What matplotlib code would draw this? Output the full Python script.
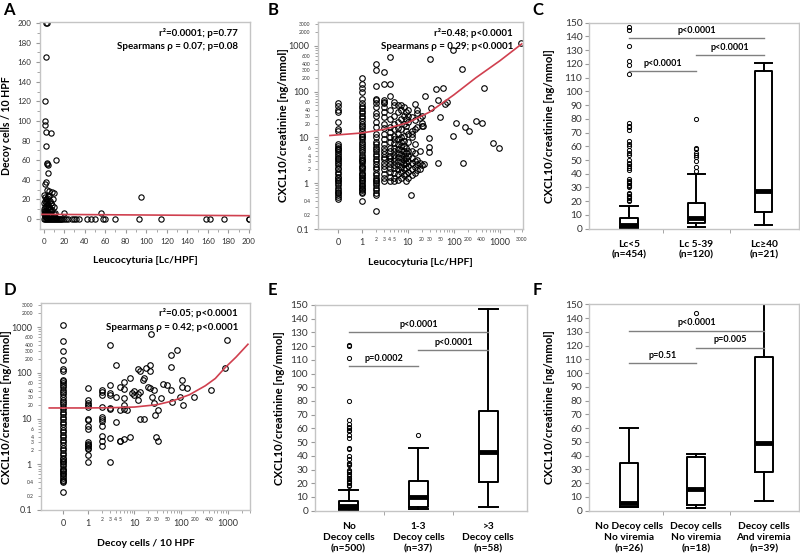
import matplotlib
matplotlib.use("Agg")
import matplotlib.pyplot as plt

plt.rcParams['font.family'] = ['Lato', 'DejaVu Sans']

ZERO = 0.3  # position of the value 0 on the log axes

# ---------------- panel A: leucocyturia vs decoy cells ----------------
a_lc = [2, 3, 2, 1, 1, 1.5, 2, 7, 2, 3, 4, 3, 12, 4, 2, 1, 3, 5, 8, 10, 95, 20, 56,
        0, 1, 2, 3, 4, 5, 6, 7, 8, 9, 10, 1, 2, 3, 4, 5, 6, 0, 0, 1, 2, 3, 0, 1, 2,
        4, 6, 8, 9, 11, 12, 5, 7, 3, 10, 11, 1, 2, 3, 4, 0, 1, 2, 3, 5, 6, 7,
        0, 1, 2, 3, 4, 5, 6, 7, 8, 9, 10, 11, 12, 13, 14, 15, 16, 17, 18, 20,
        22, 24, 28, 30, 32, 34, 42, 46, 50, 58, 60, 70, 93, 114, 158, 162, 176, 200, 200]
a_decoy = [200, 200, 165, 120, 100, 96, 89, 88, 74, 57, 55, 56, 60, 47, 38, 36, 30, 29, 28, 27, 22, 6, 6,
           25, 22, 20, 18, 15, 12, 10, 8, 14, 20, 5, 12, 8, 6, 4, 3, 2, 10, 5, 3, 2, 1, 16, 7, 13,
           24, 18, 9, 3, 2, 1, 23, 16, 11, 12, 6, 18, 16, 21, 10, 8, 5, 4, 7, 9, 5, 3,
           0, 0, 0, 0, 0, 0, 0, 0, 0, 0, 0, 0, 0, 0, 0, 0, 0, 0, 0, 0,
           0, 0, 0, 0, 0, 0, 0, 0, 0, 0, 0, 0, 0, 0, 0, 0, 0, 0, 0]
a_fit_x = [-3.5, 201]
a_fit_y = [4.8, 3.4]

# ---------------- panel B: leucocyturia vs CXCL10 ----------------
b_lc0 = [0.45, 0.5, 0.55, 0.6, 0.65, 0.7, 0.8, 0.9, 1.0, 1.1, 1.2, 1.3, 1.4, 1.6, 1.8, 2.0,
         2.2, 2.5, 2.8, 3.0, 3.3, 3.6, 4.0, 4.4, 4.8, 5.2, 5.6, 6.0, 6.5, 7.0, 14, 15, 22, 35, 40, 48, 55]
b_lc1 = [0.41, 0.6, 0.65, 0.7, 0.75, 0.8, 0.85, 0.9, 1, 1.1, 1.2, 1.3, 1.4, 1.5, 1.6, 1.7, 1.9,
         2.1, 2.3, 2.4, 2.7, 3, 3.2, 3.4, 3.8, 4.2, 4.7, 5.2, 5.8, 6.5, 7.2, 8, 9, 10, 11, 12,
         14, 16, 18, 20, 23, 26, 30, 34, 38, 43, 48, 55, 70, 100, 120, 150, 200]
b_lc2 = [0.25, 0.55, 0.6, 0.7, 0.8, 0.9, 1, 1.1, 1.2, 1.3, 1.5, 1.7, 2, 2.3, 2.6, 3, 3.4, 3.9,
         4.4, 5, 5.6, 6.3, 7, 8, 10, 12, 17, 22, 30, 34, 45, 55, 65, 70, 130, 300, 400]
b_cloud_lc = [3, 4, 5, 6, 7, 8, 9, 10, 12, 14, 16, 18, 20]
b_cloud_y = [
    [1.1, 1.3, 1.6, 2, 2.4, 2.8, 3.3, 3.8, 4.4, 5, 6, 7, 9, 12, 16, 20, 28, 35, 45, 55, 60, 65, 150, 270],
    [1.1, 1.4, 1.8, 2.2, 2.6, 3, 3.5, 4, 5, 6, 8, 10, 13, 17, 25, 40, 80, 145, 560],
    [1.1, 1.3, 1.7, 2.1, 2.5, 3, 3.6, 4.2, 5, 6, 7.5, 9, 11, 15, 20, 30, 50, 60],
    [1.2, 1.6, 2, 2.5, 3, 3.7, 4.5, 5.5, 7, 9, 12, 16, 22, 35, 50],
    [1.3, 1.8, 2.3, 2.9, 3.5, 4.3, 5.3, 6.5, 8, 10, 15, 25, 40, 52],
    [1.5, 2, 2.6, 3.2, 4, 5, 6.5, 8.5, 11, 20, 30, 45],
    [1.1, 1.6, 2.2, 2.8, 3.5, 4.5, 6, 14, 18, 25, 35],
    [1.3, 1.8, 2.4, 3, 4, 5, 8, 12, 22, 30, 40],
    [1.5, 2, 2.7, 3.6, 5, 10, 14, 28, 12],
    [1.7, 2.3, 3, 4.5, 7, 15, 24, 54],
    [1.9, 2.6, 3.2, 17, 34, 40],
    [2, 2.8, 5, 26],
    [2.5, 18, 21, 30],
]
b_rest_lc = [11.6, 21, 22, 23, 28, 28, 28, 30.5, 31, 40, 44, 46, 50, 59, 65, 70, 95, 98,
             112, 149, 160, 178, 208, 304, 405, 463, 725, 940, 2900]
b_rest_y = [0.55, 18, 2.6, 79, 4.9, 6.3, 9.6, 520, 43, 112, 2.8, 66, 28, 122, 54, 60, 10.7, 790,
            21, 314, 2.7, 17, 14, 23, 21, 119, 7.5, 6, 1150]
b_fit_x = [0.2, 1, 3, 10, 30, 100, 300, 1000, 3000]
b_fit_y = [11, 12.5, 15, 21, 36, 85, 200, 470, 1100]

# ---------------- panel D: decoy cells vs CXCL10 ----------------
d_dc0 = [0.25, 0.4, 0.42, 0.45, 0.5, 0.55, 0.6, 0.65, 0.7, 0.75, 0.8, 0.9, 1, 1.1, 1.2, 1.3, 1.4,
         1.6, 1.8, 2, 2.3, 2.6, 3, 3.4, 3.9, 4.4, 5, 5.7, 6.5, 7.4, 8.5, 9.7, 11, 12.5, 14, 16,
         18, 20.5, 23, 26, 30, 34, 38, 43, 48, 54, 60, 66, 70, 110, 120, 190, 300, 500, 1100]
d_cloud_dc = [1, 2, 3, 4, 5, 6, 7, 8, 9, 10, 12, 13, 15, 16]
d_cloud_y = [
    [1.1, 1.6, 2.2, 2.3, 2.5, 2.6, 2.8, 3, 6, 7, 9.5, 10, 18, 20, 22, 25, 47],
    [2.5, 3.3, 4.2, 7, 9, 10, 11, 18, 32, 38, 42],
    [1.1, 3.8, 16, 17, 33, 36, 55, 400],
    [8.5, 29, 145],
    [3.2, 3.3, 15, 50],
    [3.5, 16, 20, 28, 45, 63],
    [15],
    [4, 75],
    [37],
    [33, 40],
    [25, 35, 120],
    [10, 38, 110],
    [70],
    [9.8, 75],
]
d_rest_dc = [17.5, 20, 22, 22, 22, 23, 24, 26, 26, 27.6, 28.5, 32, 32, 38, 41, 50, 60, 61, 62,
             64, 82, 97, 102, 105, 110, 134, 187, 443, 850, 950]
d_rest_y = [125, 48, 145, 112, 46, 716, 29.5, 41, 21.6, 11.7, 3.9, 3.2, 15, 28, 56, 55, 43, 137,
            250, 23, 310, 29, 50, 68, 20, 46, 29, 43, 126, 530]
d_fit_x = [0.15, 1, 3, 10, 30, 64, 150, 330, 540, 880, 1500, 2700]
d_fit_y = [17, 17, 17.2, 17.8, 20, 24, 33, 52, 75, 130, 220, 420]

# ---------------- box plot panels (C, E, F) ----------------
c_labels = ['Lc<5\n(n=454)', 'Lc 5-39\n(n=120)', 'Lc≥40\n(n=21)']
c_whislo = [0.5, 1, 2.7]
c_q1 = [1.5, 4.4, 12.1]
c_med = [3, 7.5, 27.7]
c_q3 = [7.5, 18.4, 114.6]
c_whishi = [16.5, 39.8, 120.9]
c_fliers = [[20, 21, 22, 23, 24, 25, 26, 30, 31, 32, 33, 34, 35, 36, 43, 44, 46, 47, 48, 50,
             54, 55, 57, 60, 62, 64, 72, 74, 75, 77, 113, 119, 122, 133, 145, 147],
            [42, 45, 49, 52, 54, 55, 58, 59, 80], []]
c_sig = [(0, 2, 138.6, 'p<0.0001'), (1, 2, 126.5, 'p<0.0001'), (0, 1, 114.8, 'p<0.0001')]

e_labels = ['No\nDecoy cells\n(n=500)', '1-3\nDecoy cells\n(n=37)', '>3\nDecoy cells\n(n=58)']
e_whislo = [0.5, 1, 2.9]
e_q1 = [1, 2.4, 20.7]
e_med = [3.4, 9.7, 42.8]
e_q3 = [7.3, 21.6, 73]
e_whishi = [15, 46, 146.8]
e_fliers = [[18, 19, 20, 21, 22, 23, 24, 25, 27, 28, 29, 30, 33, 34, 35, 38, 40, 45, 46, 53,
             55, 58, 59, 60, 61, 63, 66, 80, 111, 120, 121], [55], []]
e_sig = [(0, 2, 130, 'p<0.0001'), (1, 2, 117.2, 'p<0.0001'), (0, 1, 105.5, 'p=0.0002')]

f_labels = ['No Decoy cells\nNo viremia\n(n=26)', 'Decoy cells\nNo viremia\n(n=18)',
            'Decoy cells\nAnd viremia\n(n=39)']
f_whislo = [2.4, 2.2, 7]
f_q1 = [2.9, 4.1, 28.4]
f_med = [5.8, 15.8, 49]
f_q3 = [34.4, 38.8, 111.5]
f_whishi = [60.3, 41.2, 150]
f_fliers = [[], [144], []]
f_sig = [(0, 2, 130.8, 'p<0.0001'), (1, 2, 118.5, 'p=0.005'), (0, 1, 107.1, 'p=0.51')]

YLAB = 'CXCL10/creatinine [ng/mmol]'
YLAB_SIZE = 8.2
SPINE = '#c4c4c4'
TXT = '#333333'


def frame(ax):
    for s in ax.spines.values():
        s.set_color(SPINE)
        s.set_linewidth(1.0)
    ax.tick_params(which='both', color='#999999', labelcolor=TXT, direction='out')


def circles(ax, xs, ys, ms=4):
    ax.plot(xs, ys, 'o', mfc='none', mec='black', ms=ms, mew=0.8, ls='none')


def log_axes(ax, xlim, xmaj, xmaj_lab, xmin_lab):
    ax.set_xscale('log')
    ax.set_yscale('log')
    ax.set_xlim(*xlim)
    ax.set_ylim(0.1, 3300)
    minors = [m * 10 ** e for e in range(-1, 4) for m in range(2, 10) if m * 10 ** e <= 3000]
    ax.set_xticks(xmaj, xmaj_lab)
    xm = [v for v in minors if v > 1]
    ax.set_xticks(xm, [('%g' % v if v in xmin_lab else '') for v in xm], minor=True)
    ymaj = [0.1, 1, 10, 100, 1000]
    ax.set_yticks(ymaj, ['0.1', '1', '10', '100', '1000'])
    ylab_set = [0.2, 0.3, 0.4, 0.6, 2, 3, 4, 6, 20, 30, 40, 60, 200, 300, 400, 600, 2000, 3000]
    ax.set_yticks(minors, [('%g' % v if v in ylab_set else '') for v in minors], minor=True)
    frame(ax)
    ax.tick_params(which='major', labelsize=6.5, length=3)
    ax.tick_params(which='minor', labelsize=3.6, length=2)


def box_panel(ax, labels, whislo, q1, med, q3, whishi, fliers, sig, xlim, width):
    stats = []
    for i in range(3):
        stats.append(dict(whislo=whislo[i], q1=q1[i], med=med[i], q3=q3[i],
                          whishi=whishi[i], fliers=fliers[i]))
    ax.bxp(stats, positions=[0, 1, 2], widths=width, capwidths=width,
           boxprops=dict(color='black', lw=1.4),
           medianprops=dict(color='black', lw=3.5, solid_capstyle='butt'),
           whiskerprops=dict(color='black', lw=1.4),
           capprops=dict(color='black', lw=1.4),
           flierprops=dict(marker='o', ms=3, mfc='none', mec='black', mew=0.7))
    for x0, x1, y, t in sig:
        ax.plot([x0, x1], [y, y], color='#808080', lw=1)
        ax.text((x0 + x1) / 2, y + 2.5, t, ha='center', va='bottom', fontsize=6.5,
                fontweight='bold')
    ax.set_xlim(*xlim)
    ax.set_ylim(0, 150)
    ax.set_yticks(range(0, 151, 10))
    ax.set_xticks([0, 1, 2], labels, fontweight='bold', fontsize=7.3, linespacing=1.3)
    ax.set_xticks([0.5, 1.5], minor=True)
    frame(ax)
    ax.tick_params(axis='x', which='major', length=0, pad=8, labelcolor='black')
    ax.tick_params(axis='x', which='minor', length=3)
    ax.tick_params(axis='y', labelsize=7.3, length=3, pad=2)
    ax.set_ylabel(YLAB, fontsize=YLAB_SIZE, fontweight='bold')
    ax.yaxis.set_label_coords(-0.165, 0.5)


fig = plt.figure(figsize=(8, 5.59), dpi=100)

# A
ax = fig.add_axes([0.05, 0.5903, 0.2625, 0.3703])
circles(ax, a_lc, a_decoy, ms=3.8)
ax.plot(a_fit_x, a_fit_y, color='#d0404f', lw=1.2)
ax.set_xlim(-3.5, 201)
ax.set_ylim(-10.2, 201)
ax.set_xticks(range(0, 201, 20))
ax.set_yticks(range(0, 201, 20))
ax.set_xticks(range(0, 201, 10), minor=True)
ax.set_yticks(range(0, 201, 10), minor=True)
frame(ax)
ax.tick_params(which='major', labelsize=5.8, length=3)
ax.tick_params(which='minor', length=2)
ax.set_ylabel('Decoy cells / 10 HPF', fontsize=7.6, fontweight='bold')
ax.yaxis.set_label_coords(-0.135, 0.5)
ax.set_xlabel('Leucocyturia [Lc/HPF]', fontsize=7.5, fontweight='bold', labelpad=8)
ax.text(0.943, 0.947, 'r²=0.0001; p=0.77', transform=ax.transAxes, ha='right', va='center',
        fontsize=7, fontweight='bold')
ax.text(0.943, 0.884, 'Spearmans ρ = 0.07; p=0.08', transform=ax.transAxes, ha='right',
        va='center', fontsize=7, fontweight='bold')

# B
ax = fig.add_axes([0.3975, 0.5903, 0.2563, 0.3703])
circles(ax, [ZERO] * len(b_lc0), b_lc0)
circles(ax, [1] * len(b_lc1), b_lc1)
circles(ax, [2] * len(b_lc2), b_lc2)
for lc, ys in zip(b_cloud_lc, b_cloud_y):
    circles(ax, [lc] * len(ys), ys)
circles(ax, b_rest_lc, b_rest_y)
ax.plot(b_fit_x, b_fit_y, color='#d0404f', lw=1.2)
log_axes(ax, (0.11, 3200), [ZERO, 1, 10, 100, 1000], ['0', '1', '10', '100', '1000'],
         [2, 3, 4, 5, 20, 30, 50, 200, 400, 3000])
ax.set_ylabel(YLAB, fontsize=YLAB_SIZE, fontweight='bold')
ax.yaxis.set_label_coords(-0.14, 0.5)
ax.set_xlabel('Leucocyturia [Lc/HPF]', fontsize=7.5, fontweight='bold', labelpad=8)
ax.text(0.951, 0.947, 'r²=0.48; p<0.0001', transform=ax.transAxes, ha='right', va='center',
        fontsize=7, fontweight='bold')
ax.text(0.951, 0.884, 'Spearmans ρ = 0.29; p<0.0001', transform=ax.transAxes, ha='right',
        va='center', fontsize=7, fontweight='bold')

# C
ax = fig.add_axes([0.7366, 0.5909, 0.2618, 0.3685])
box_panel(ax, c_labels, c_whislo, c_q1, c_med, c_q3, c_whishi, c_fliers, c_sig,
          (-0.59, 2.52), 0.26)

# D
ax = fig.add_axes([0.0513, 0.0877, 0.2613, 0.3697])
circles(ax, [ZERO] * len(d_dc0), d_dc0)
for dc, ys in zip(d_cloud_dc, d_cloud_y):
    circles(ax, [dc] * len(ys), ys)
circles(ax, d_rest_dc, d_rest_y)
ax.plot(d_fit_x, d_fit_y, color='#d0404f', lw=1.2)
log_axes(ax, (0.1, 2750), [ZERO, 1, 10, 100, 1000], ['0', '1', '10', '100', '1000'],
         [2, 3, 4, 5, 20, 30, 50, 200, 400])
ax.set_ylabel(YLAB, fontsize=YLAB_SIZE, fontweight='bold')
ax.yaxis.set_label_coords(-0.138, 0.5)
ax.set_xlabel('Decoy cells / 10 HPF', fontsize=7.5, fontweight='bold', labelpad=8)
ax.text(0.943, 0.952, 'r²=0.05; p<0.0001', transform=ax.transAxes, ha='right', va='center',
        fontsize=7, fontweight='bold')
ax.text(0.943, 0.882, 'Spearmans ρ = 0.42; p<0.0001', transform=ax.transAxes, ha='right',
        va='center', fontsize=7, fontweight='bold')

# E
ax = fig.add_axes([0.3938, 0.0864, 0.2646, 0.368])
box_panel(ax, e_labels, e_whislo, e_q1, e_med, e_q3, e_whishi, e_fliers, e_sig,
          (-0.48, 2.55), 0.28)
ax.yaxis.set_label_coords(-0.14, 0.5)

# F
ax = fig.add_axes([0.7366, 0.0864, 0.2618, 0.3692])
box_panel(ax, f_labels, f_whislo, f_q1, f_med, f_q3, f_whishi, f_fliers, f_sig,
          (-0.59, 2.52), 0.27)

for letter, x, y in [('A', 0.004, 0.982), ('B', 0.335, 0.982), ('C', 0.666, 0.982),
                     ('D', 0.004, 0.482), ('E', 0.335, 0.482), ('F', 0.666, 0.482)]:
    fig.text(x, y, letter, fontsize=12, fontweight='bold', va='center', ha='left')

fig.savefig('out.png', dpi=100)
